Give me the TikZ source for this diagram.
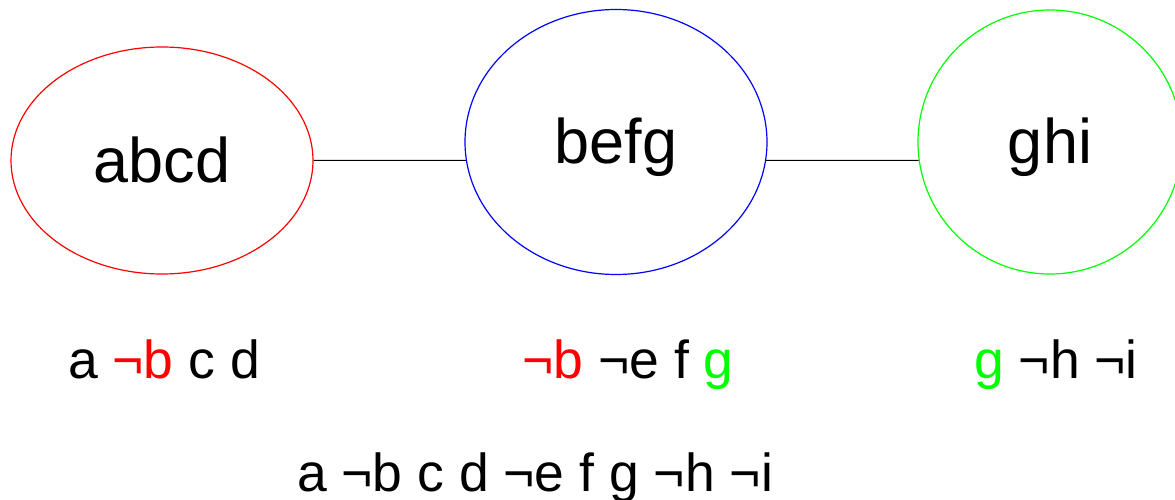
\documentclass[tikz,border=0pt]{standalone}
\usepackage{fontspec}
\setmainfont{Liberation Sans}
\usetikzlibrary{shapes.geometric}
\definecolor{pred}{RGB}{255,0,0}
\definecolor{pblue}{RGB}{0,0,255}
\definecolor{pgreen}{RGB}{0,255,0}
\tikzset{
  clus/.style={ellipse, draw, line width=1.2pt, inner sep=0pt},
  bigtxt/.style={anchor=base, inner sep=0pt, font=\fontsize{63}{70}\selectfont},
  smalltxt/.style={anchor=base, inner sep=0pt, font=\fontsize{53.5}{60}\selectfont},
  link/.style={draw=black, line width=1pt}
}
\begin{document}
\begin{tikzpicture}[x=1pt,y=1pt]
\useasboundingbox (0,0) rectangle (1175,-500);
\node[clus, draw=pred, minimum width=302pt, minimum height=227pt] (abcd) at (162,-160.5) {};
\node[clus, draw=pblue, minimum width=302pt, minimum height=265pt] (befg) at (616,-142) {};
\node[clus, draw=pgreen, minimum width=264pt, minimum height=264pt] (ghi) at (1050,-142) {};
\node[bigtxt] (tabcd) at (162,-182.7) {abcd};
\node[bigtxt] (tbefg) at (616,-164) {befg};
\node[bigtxt] (tghi) at (1050,-164) {ghi};
\draw[link] (abcd.east) -- (befg.187);
\draw[link] (befg.353) -- (ghi.188);
\node[smalltxt] (l1) at (164,-378.3) {a \textcolor{pred}{¬b} c d};
\node[smalltxt] (l2) at (628,-378.3) {\textcolor{pred}{¬b} ¬e f \textcolor{pgreen}{g}};
\node[smalltxt] (l3) at (1056,-378.3) {\textcolor{pgreen}{g} ¬h ¬i};
\node[smalltxt] (l4) at (535,-491.7) {a ¬b c d ¬e f g ¬h ¬i};
\end{tikzpicture}
\end{document}
